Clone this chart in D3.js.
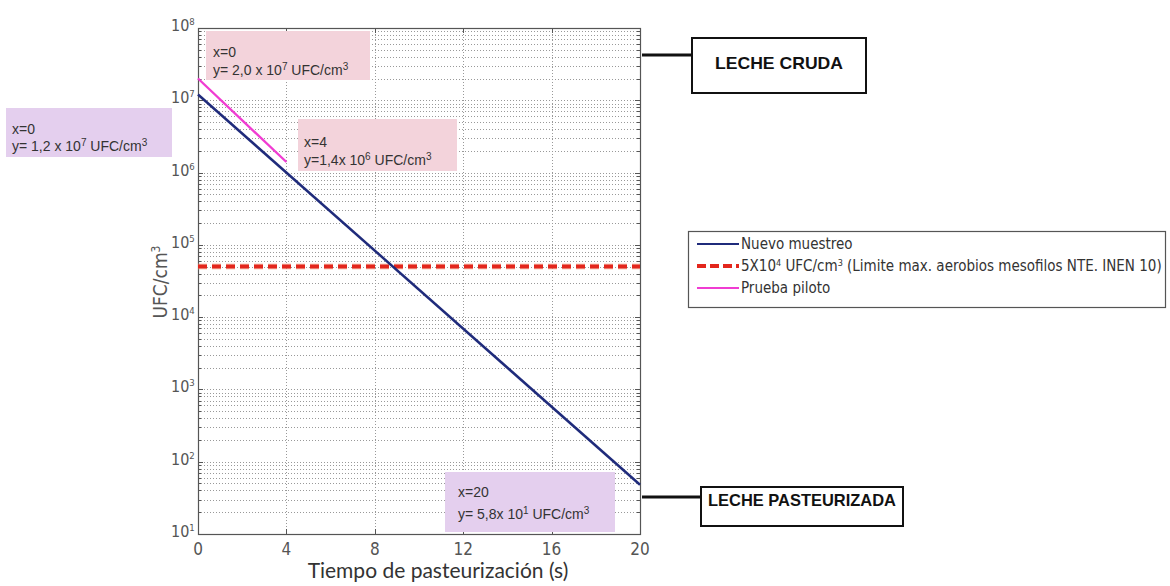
<!DOCTYPE html>
<html>
<head>
<meta charset="utf-8">
<script src="https://cdn.jsdelivr.net/npm/d3@7"></script>
<style>
  body { margin: 0; background: #fff; }
  svg { display: block; }
  .narrow { font-family: "Liberation Sans Narrow", "DejaVu Sans Condensed", sans-serif; }
  .ann { font-family: "Liberation Sans", Arial, sans-serif; }
</style>
</head>
<body>
<svg id="chart"></svg>
<script>
// Datos
const tiempo = [0, 20];
const nuevoMuestreo = [1.2e7, 4.8e1];
const tiempoPiloto = [0, 4];
const pruebaPiloto = [2.0e7, 1.4e6];
const limiteX = [0, 20];
const limiteY = [5e4, 5e4];
const xTicks = [0, 4, 8, 12, 16, 20];
const yExponents = [1, 2, 3, 4, 5, 6, 7, 8];
const legendNames = ["Nuevo muestreo", "5X10|4| UFC/cm|3| (Limite max. aerobios mesofilos NTE. INEN 10)", "Prueba piloto"];

const width = 1170, height = 586;
const plot = { left: 198, right: 640, top: 28, bottom: 534 };

const svg = d3.select("#chart").attr("width", width).attr("height", height);

const x = d3.scaleLinear().domain([0, 20]).range([plot.left, plot.right]);
const y = d3.scaleLog().domain([10, 1e8]).range([plot.bottom, plot.top]);

// writes text where parts between | | are superscripts
function supText(sel, str, supSize, shift) {
  str.split("|").forEach((p, i) => {
    if (!p) return;
    const t = sel.append("tspan").text(p);
    if (i % 2 === 1) {
      t.attr("font-size", supSize).attr("dy", -shift);
    } else if (i > 0) {
      t.attr("dy", shift);
    }
  });
}

// Grid
const grid = svg.append("g").attr("stroke", "#999").attr("stroke-width", 1)
  .attr("stroke-dasharray", "1,2");
grid.selectAll("line.h").data(y.ticks()).enter().append("line")
  .attr("x1", plot.left).attr("x2", plot.right)
  .attr("y1", d => Math.round(y(d)) + 0.5).attr("y2", d => Math.round(y(d)) + 0.5);
grid.selectAll("line.v").data(xTicks.slice(1, -1)).enter().append("line")
  .attr("x1", d => Math.round(x(d)) + 0.5).attr("x2", d => Math.round(x(d)) + 0.5)
  .attr("y1", plot.top).attr("y2", plot.bottom);

// Annotation boxes (behind the lines)
const boxes = [
  { x: 206, y: 31, w: 164, h: 49, fill: "#f3d3db", lines: ["x=0", "y= 2,0 x 10|7| UFC/cm|3|"], tx: 213, ty: [57, 75] },
  { x: 6, y: 108, w: 166, h: 49, fill: "#e4cfee", lines: ["x=0", "y= 1,2 x 10|7| UFC/cm|3|"], tx: 12, ty: [134, 151] },
  { x: 298, y: 119, w: 159, h: 52, fill: "#f3d3db", lines: ["x=4", "y=1,4x 10|6| UFC/cm|3|"], tx: 304, ty: [147, 165] },
  { x: 445, y: 472, w: 170, h: 60, fill: "#e4cfee", lines: ["x=20", "y= 5,8x 10|1| UFC/cm|3|"], tx: 458, ty: [497, 519] }
];

// Axis frame
svg.append("rect").attr("x", plot.left + 0.5).attr("y", plot.top + 0.5)
  .attr("width", plot.right - plot.left).attr("height", plot.bottom - plot.top)
  .attr("fill", "none").attr("stroke", "#555").attr("stroke-width", 1.2);

// Ticks on left and right
const tk = svg.append("g").attr("stroke", "#555");
y.ticks().forEach(d => {
  const major = Math.abs(Math.log10(d) - Math.round(Math.log10(d))) < 1e-9;
  const len = major ? 5 : 3;
  const yy = Math.round(y(d)) + 0.5;
  tk.append("line").attr("x1", plot.left).attr("x2", plot.left + len).attr("y1", yy).attr("y2", yy);
  tk.append("line").attr("x1", plot.right).attr("x2", plot.right - len).attr("y1", yy).attr("y2", yy);
});
xTicks.forEach(d => {
  const xx = Math.round(x(d)) + 0.5;
  tk.append("line").attr("x1", xx).attr("x2", xx).attr("y1", plot.bottom).attr("y2", plot.bottom - 5);
  tk.append("line").attr("x1", xx).attr("x2", xx).attr("y1", plot.top).attr("y2", plot.top + 5);
});

boxes.forEach(b => {
  svg.append("rect").attr("x", b.x).attr("y", b.y).attr("width", b.w).attr("height", b.h).attr("fill", b.fill);
  b.lines.forEach((l, i) => {
    const t = svg.append("text").attr("class", "ann").attr("x", b.tx).attr("y", b.ty[i])
      .attr("font-size", 14).attr("fill", "#333");
    supText(t, l, 10, 5);
  });
});

// Lines
const line = d3.line().x(d => x(d[0])).y(d => y(d[1]));

svg.append("path").datum(d3.zip(limiteX, limiteY))
  .attr("d", line).attr("fill", "none").attr("stroke", "#f0a080")
  .attr("stroke-width", 6).attr("stroke-dasharray", "9,5").attr("opacity", 0.5);
svg.append("path").datum(d3.zip(limiteX, limiteY))
  .attr("d", line).attr("fill", "none").attr("stroke", "#e3261c")
  .attr("stroke-width", 4).attr("stroke-dasharray", "9,5");

svg.append("path").datum(d3.zip(tiempo, nuevoMuestreo))
  .attr("d", line).attr("fill", "none").attr("stroke", "#1f2b7b").attr("stroke-width", 2.5);

svg.append("path").datum(d3.zip(tiempoPiloto, pruebaPiloto))
  .attr("d", line).attr("fill", "none").attr("stroke", "#f03cd2").attr("stroke-width", 2.3);

// Tick labels
svg.append("g").selectAll("text").data(xTicks).enter().append("text")
  .attr("class", "narrow").attr("x", d => x(d)).attr("y", 555)
  .attr("text-anchor", "middle").attr("font-size", 17).attr("fill", "#555")
  .text(d => d);

yExponents.forEach(e => {
  const t = svg.append("text").attr("class", "narrow").attr("x", 171).attr("y", y(Math.pow(10, e)) + 3)
    .attr("font-size", 16).attr("fill", "#555");
  supText(t, "10|" + e + "|", 9.5, 6);
});

// Axis titles
const yl = svg.append("text").attr("class", "narrow")
  .attr("transform", "translate(167,282) rotate(-90)")
  .attr("text-anchor", "middle").attr("font-size", 19).attr("fill", "#555");
supText(yl, "UFC/cm|3|", 12, 7);

svg.append("text").attr("x", 438).attr("y", 578).attr("text-anchor", "middle")
  .attr("font-family", "Lato, 'Open Sans', sans-serif").attr("font-size", 21).attr("fill", "#333")
  .text("Tiempo de pasteurización (s)");

// Legend
const lg = svg.append("g");
lg.append("rect").attr("x", 688.5).attr("y", 231.5).attr("width", 477).attr("height", 76)
  .attr("fill", "#fff").attr("stroke", "#555").attr("stroke-width", 1.2);
const legendStyles = [
  { stroke: "#1f2b7b", w: 2, dash: null },
  { stroke: "#e3261c", w: 4, dash: "9,4" },
  { stroke: "#f03cd2", w: 2, dash: null }
];
legendNames.forEach((n, i) => {
  const yy = 244 + i * 22;
  lg.append("line").attr("x1", 697).attr("x2", 739).attr("y1", yy).attr("y2", yy)
    .attr("stroke", legendStyles[i].stroke).attr("stroke-width", legendStyles[i].w)
    .attr("stroke-dasharray", legendStyles[i].dash);
  const t = lg.append("text").attr("class", "narrow").attr("x", 741).attr("y", yy + 5)
    .attr("font-size", 15).attr("fill", "#333");
  supText(t, n, 9, 5);
});

// Callout boxes
const callouts = [
  { label: "LECHE CRUDA", bx: 692, by: 38, bw: 174, bh: 55, ly: 55, ty: 69, tl: 128 },
  { label: "LECHE PASTEURIZADA", bx: 701, by: 487, bw: 202, bh: 39, ly: 497, ty: 506, tl: 188 }
];
callouts.forEach(c => {
  svg.append("line").attr("x1", plot.right + 2).attr("x2", c.bx).attr("y1", c.ly).attr("y2", c.ly)
    .attr("stroke", "#111").attr("stroke-width", 3);
  svg.append("rect").attr("x", c.bx).attr("y", c.by).attr("width", c.bw).attr("height", c.bh)
    .attr("fill", "#fff").attr("stroke", "#111").attr("stroke-width", 2);
  svg.append("text").attr("x", c.bx + c.bw / 2).attr("y", c.ty).attr("text-anchor", "middle")
    .attr("font-family", "'Liberation Sans', Arial, sans-serif").attr("font-weight", "bold")
    .attr("font-size", 17).attr("fill", "#111")
    .attr("textLength", c.tl).attr("lengthAdjust", "spacingAndGlyphs").text(c.label);
});
</script>
</body>
</html>
